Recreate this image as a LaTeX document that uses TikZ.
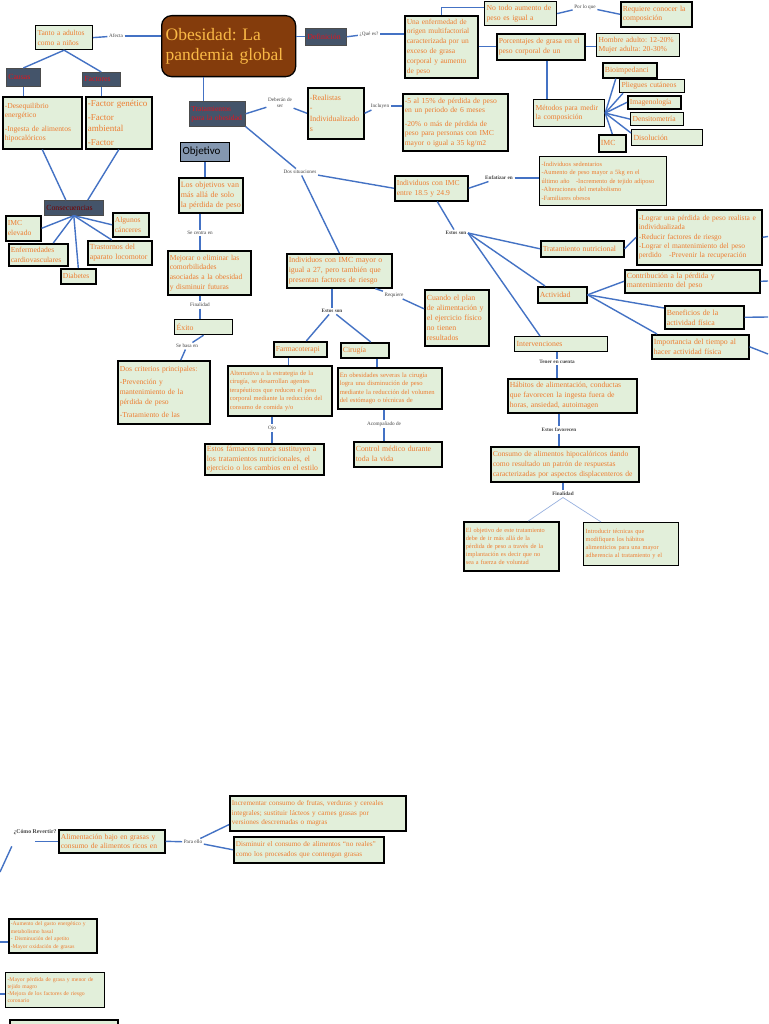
\documentclass[tikz,border=0pt]{standalone}
\usepackage{fontspec}
\setmainfont{Liberation Serif}
\newfontfamily\objfont{Carlito}
\usepackage{xcolor}
\definecolor{boxfill}{RGB}{226,239,218}
\definecolor{boxtext}{RGB}{237,125,49}
\definecolor{wireblue}{RGB}{68,114,196}
\definecolor{hdrfill}{RGB}{68,84,106}
\definecolor{hdrtext}{RGB}{225,20,30}
\definecolor{objfill}{RGB}{132,151,176}
\definecolor{titlefill}{RGB}{132,60,12}
\definecolor{titletext}{RGB}{250,185,70}
\definecolor{lbltext}{RGB}{70,70,70}
\newcommand{\fsz}[2]{\fontsize{#1}{#2}\selectfont}
\frenchspacing

\begin{document}
\begin{tikzpicture}[
    x=1pt, y=-1pt,
    box/.style 2 args={draw=black, line width=1.6pt, fill=boxfill, text=boxtext, anchor=north west, align=left, inner sep=2pt, minimum width=#1, minimum height=#2, text width=#1-4},
    hdr/.style 2 args={draw=black!70, line width=0.6pt, fill=hdrfill, text=hdrtext, anchor=north west, align=left, inner sep=2pt, minimum width=#1, minimum height=#2, text width=#1-4, font=\fsz{7.8}{9}},
    lbl/.style={font=\fsz{5.2}{6}, text=lbltext, inner sep=1.5pt, align=center},
    lblb/.style={lbl, font=\fsz{5.2}{6}\bfseries},
    wire/.style={draw=wireblue, line width=1.4pt},
    thinwire/.style={draw=wireblue!55, line width=0.7pt}
]
    \path[use as bounding box, fill=white] (0,0) rectangle (768,1024);

    \node[draw=black, line width=1.3pt, fill=titlefill, text=titletext, rounded corners=10pt, anchor=north west, minimum width=134, minimum height=61, text width=126, align=left, inner sep=4pt, font=\fsz{17.5}{20}] (title) at (161,15) {Obesidad: La\\pandemia global};

    \node[box={57}{24}, font=\fsz{7.5}{10}, line width=1.2pt] (tanto) at (35,25) {Tanto a adultos\\como a niños};
    \node[hdr={34}{18}] (causas) at (6,68) {Causas};
    \node[hdr={38}{14}] (factores) at (82,72) {Factores};
    \node[box={79}{52}, font=\fsz{7.6}{9.5}] (causlist) at (2,96) {-Desequilibrio\\energético\\[4pt]-Ingesta de alimentos\\hipocalóricos};
    \node[box={66}{52}, font=\fsz{9}{11}] (factlist) at (85,96) {-Factor genético\\[3pt]-Factor\\ambiental\\[3pt]-Factor};
    \node[hdr={59}{15}, text=red!45!black] (consec) at (44,200) {Consecuencias};
    \node[box={35}{25}, font=\fsz{7.6}{10}] (imc1) at (5,215) {IMC\\elevado};
    \node[box={36}{24}, font=\fsz{7.6}{10}] (cancer) at (112,212) {Algunos\\cánceres};
    \node[box={59}{22}, font=\fsz{7.6}{10}] (cardio) at (8,243) {Enfermedades\\cardiovasculares};
    \node[box={64}{24}, font=\fsz{7.8}{10}] (trast) at (87,240) {Trastornos del\\aparato locomotor};
    \node[box={35}{15}, font=\fsz{7.6}{9}] (diab) at (60,268) {Diabetes};

    \node[hdr={56}{25}, font=\fsz{7.6}{9}] (trat) at (189,101) {Tratamientos\\para la obesidad};
    \node[draw=black, line width=1.2pt, fill=objfill, anchor=north west, minimum width=49, minimum height=19, text width=45, align=left, inner sep=2pt, font=\objfont\fsz{11}{12}] (objetivo) at (180,142) {Objetivo};
    \node[box={64}{35}, font=\fsz{8}{10}] (obj1) at (178,177) {Los objetivos van\\más allá de solo\\la pérdida de peso};
    \node[box={83}{44}, font=\fsz{7.6}{9.6}] (mejorar) at (167,250) {Mejorar o eliminar las\\comorbilidades\\asociadas a la obesidad\\y disminuir futuras};
    \node[box={58}{15}, font=\fsz{7.8}{9}, line width=1.2pt] (exito) at (174,319) {Éxito};
    \node[box={92}{63}, font=\fsz{7.6}{10}] (dos) at (117,360) {Dos criterios principales:\\[3pt]-Prevención y\\mantenimiento de la\\pérdida de peso\\[3pt]-Tratamiento de las};

    \node[box={56}{51}, font=\fsz{7.9}{10.5}] (realistas) at (307,87) {-Realistas\\-\\Individualizado\\s};
    \node[box={105}{57}, font=\fsz{7.6}{9.5}] (pct) at (402,93) {-5 al 15\% de pérdida de peso\\en un periodo de 6 meses\\[4pt]-20\% o más de pérdida de\\peso para personas con IMC\\mayor o igual a 35 kg/m2};
    \node[box={73}{25}, font=\fsz{7.6}{10}] (ind1) at (394,175) {Individuos con IMC\\entre 18.5 y 24.9};
    \node[box={105}{34}, font=\fsz{7.8}{10}] (ind2) at (286,253) {Individuos con IMC mayor o\\igual a 27, pero también que\\presentan factores de riesgo};
    \node[box={127}{49}, font=\fsz{6.4}{8.5}, line width=1.2pt] (riesgo) at (539,156) {-Individuos sedentarios\\-Aumento de peso mayor a 5kg en el\\último año\quad -Incremento de tejido adiposo\\-Alteraciones del metabolismo\\-Familiares obesos};
    \node[box={83}{16}, font=\fsz{7.7}{9}] (nutri) at (540,240) {Tratamiento nutricional};
    \node[box={49}{16}, font=\fsz{7.8}{9}] (actfis) at (537,286) {Actividad};
    \node[box={93}{15}, font=\fsz{7.8}{9}, line width=1.2pt] (interv) at (514,336) {Intervenciones};
    \node[box={125}{55}, font=\fsz{7.5}{9.3}] (lograr) at (636,209) {-Lograr una pérdida de peso realista e\\individualizada\\-Reducir factores de riesgo\\-Lograr el mantenimiento del peso\\perdido\quad -Prevenir la recuperación};
    \node[box={135}{23}, font=\fsz{7.8}{9.5}] (contrib) at (624,269) {Contribución a la pérdida y\\mantenimiento del peso};
    \node[box={79}{23}, font=\fsz{7.8}{10}] (benef) at (664,305) {Beneficios de la\\actividad física};
    \node[box={97}{24}, font=\fsz{7.8}{10}] (import) at (651,334) {Importancia del tiempo al\\hacer actividad física};
    \node[box={129}{34}, font=\fsz{7.7}{10}] (habitos) at (507,378) {Hábitos de alimentación, conductas\\que favorecen la ingesta fuera de\\horas, ansiedad, autoimagen};
    \node[box={148}{35}, font=\fsz{7.6}{10}] (consumo) at (490,446) {Consumo de alimentos hipocalóricos dando\\como resultado un patrón de respuestas\\caracterizadas por aspectos displacenteros de};
    \node[box={95}{49}, font=\fsz{6.3}{8.2}] (fin1) at (463,521) {El objetivo de este tratamiento\\debe de ir más allá de la\\pérdida de peso a través de la\\implantación es decir que no\\sea a fuerza de voluntad};
    \node[box={95}{43}, font=\fsz{6.3}{8.2}, line width=1.2pt] (fin2) at (583,522) {Introducir técnicas que\\modifiquen los hábitos\\alimenticios para una mayor\\adherencia al tratamiento y el};

    \node[box={64}{56}, font=\fsz{7.8}{10}] (cuando) at (424,289) {Cuando el plan\\de alimentación y\\el ejercicio físico\\no tienen\\resultados};
    \node[box={53}{15}, font=\fsz{7.6}{9}] (farma) at (273,341) {Farmacoterapi};
    \node[box={48}{15}, font=\fsz{7.8}{9}] (ciru) at (340,342) {Cirugía};
    \node[box={104}{50}, font=\fsz{6.5}{8.5}] (farmatxt) at (227,365) {Alternativa a la estrategia de la\\cirugía, se desarrollan agentes\\terapéuticos que reducen el peso\\corporal mediante la reducción del\\consumo de comida y/o};
    \node[box={119}{31}, font=\fsz{7.8}{9.5}] (farmanote) at (204,443) {Estos fármacos nunca sustituyen a\\los tratamientos nutricionales, el\\ejercicio o los cambios en el estilo};
    \node[box={104}{41}, font=\fsz{6.6}{8.5}] (cirutxt) at (337,367) {En obesidades severas la cirugía\\logra una disminución de peso\\mediante la reducción del volumen\\del estómago o técnicas de};
    \node[box={88}{25}, font=\fsz{7.8}{10}] (control) at (353,441) {Control médico durante\\toda la vida};

    \node[hdr={41}{17}] (defin) at (305,28) {Definición};
    \node[box={73}{62}, font=\fsz{7.5}{9.8}] (una) at (404,15) {Una enfermedad de\\origen multifactorial\\caracterizada por un\\exceso de grasa\\corporal y aumento\\de peso};
    \node[box={72}{24}, font=\fsz{7.7}{9.5}, line width=1.2pt] (notodo) at (484,1) {No todo aumento de\\peso es igual a};
    \node[box={71}{25}, font=\fsz{7.7}{9.5}] (requiere) at (620,1) {Requiere conocer la\\composición};
    \node[box={88}{26}, font=\fsz{7.6}{9.5}] (porc) at (496,33) {Porcentajes de grasa en el\\peso corporal de un};
    \node[box={83}{23}, font=\fsz{7.6}{9.5}, line width=1.2pt] (hombre) at (596,33) {Hombre adulto: 12-20\%\\Mujer adulta: 20-30\%};
    \node[box={71}{27}, font=\fsz{7.6}{9.5}, line width=1.2pt] (metodos) at (533,99) {Métodos para medir\\la composición};
    \node[box={54}{15}, font=\fsz{7.8}{9}] (bio) at (602,62) {Bioimpedanci};
    \node[box={65}{13}, font=\fsz{7.6}{9}, line width=1.2pt] (plieg) at (619,79) {Pliegues cutáneos};
    \node[box={53}{13}, font=\fsz{7.6}{9}] (imag) at (627,95) {Imagenología};
    \node[box={53}{13}, font=\fsz{7.6}{9}, line width=1.2pt] (dens) at (630,112) {Densitometría};
    \node[box={71}{16}, font=\fsz{7.8}{9}, line width=1.2pt] (disol) at (631,129) {Disolución};
    \node[box={27}{17}, font=\fsz{7.8}{9}] (imc2) at (598,134) {IMC};

    \node[box={106}{23}, font=\fsz{7.6}{9.5}] (alim) at (58,829) {Alimentación bajo en grasas y\\consumo de alimentos ricos en};
    \node[box={176}{35}, font=\fsz{7.2}{9.7}] (incr) at (229,795) {Incrementar consumo de frutas, verduras y cereales\\integrales; sustituir lácteos y carnes grasas por\\versiones descremadas o magras};
    \node[box={150}{26}, font=\fsz{7.2}{9.7}] (dism) at (233,836) {Disminuir el consumo de alimentos ``no reales''\\como los procesados que contengan grasas};
    \node[box={88}{34}, font=\fsz{5.6}{7.5}] (left1) at (8,918) {-Aumento del gasto energético y\\metabolismo basal\\- Disminución del apetito\\-Mayor oxidación de grasas};
    \node[box={99}{35}, font=\fsz{5.7}{7.2}, line width=1.2pt] (left2) at (5,972) {-Mayor pérdida de grasa y menor de\\tejido magro\\-Mejora de los factores de riesgo\\coronario};
    \node[box={108}{14}] (left3) at (9,1019) {};

    \node[lbl] (lafecta) at (116,36) {Afecta};
    \node[lbl] (lque) at (369,34) {¿Qué es?};
    \node[lbl] (lporlo) at (585,7) {Por lo que};
    \node[lbl] (ldeber) at (280,103) {Deberán de\\ser};
    \node[lbl] (lincl) at (380,106) {Incluyen};
    \node[lbl] (ldossit) at (300,172) {Dos situaciones};
    \node[lblb] (lenfat) at (499,178) {Enfatizar en};
    \node[lblb] (lestos1) at (456,233) {Estos son};
    \node[lbl] (lsecentra) at (200,233) {Se centra en};
    \node[lbl] (lfinal1) at (200,305) {Finalidad};
    \node[lbl] (lsebasa) at (187,346) {Se basa en};
    \node[lblb] (lestos2) at (332,311) {Estos son};
    \node[lbl] (lreq) at (394,295) {Requiere};
    \node[lbl] (ojo) at (272,428) {Ojo};
    \node[lbl] (lacomp) at (384,424) {Acompañado de};
    \node[lblb] (ltener) at (557,362) {Tener en cuenta};
    \node[lblb] (lfavor) at (559,430) {Estos favorecen};
    \node[lblb] (lfinal2) at (563,494) {Finalidad};
    \node[lblb, font=\fsz{5.8}{7}\bfseries] (lcomo) at (35,832) {¿Cómo Revertir?};
    \node[lbl] (lpara) at (193,842) {Para ello};

    \coordinate (rimA) at (768,236.5);
    \coordinate (rimB) at (768,281);
    \coordinate (rimC) at (768,317);
    \coordinate (rimD) at (768,354);
    \coordinate (rimE) at (0,872);
    \coordinate (rimF) at (0,942);
    \coordinate (rimG) at (0,994);

    \draw[wire] (tanto.east) -- (lafecta);
    \draw[wire] (lafecta) -- (lafecta -| title.west);
    \draw[wire] (tanto.south) -- (causas.north);
    \draw[wire] (tanto.south) -- (factores.north);
    \draw[wire] (causas.south) -- (causas.south |- causlist.north);
    \draw[wire] (factores.south) -- (factores.south |- factlist.north);
    \draw[wire] (causlist.south) -- ([xshift=-8pt]consec.north);
    \draw[wire] (factlist.south) -- ([xshift=14pt]consec.north);
    \draw[wire] (consec.south) -- (imc1.east);
    \draw[wire] (consec.south) -- (cancer.west);
    \draw[wire] (consec.south) -- ([xshift=15pt]cardio.north);
    \draw[wire] (consec.south) -- ([xshift=-8pt]trast.north);
    \draw[wire] (consec.south) -- (diab.north);

    \draw[wire] ([xshift=-14pt]trat.north) -- ([xshift=-14pt]trat.north |- title.south);
    \draw[wire] (trat.east) -- (ldeber);
    \draw[wire] (ldeber) -- (realistas.west);
    \draw[wire] (realistas.east) -- (lincl);
    \draw[wire] (lincl) -- (lincl -| pct.west);
    \draw[wire] (trat.south east) -- (ldossit);
    \draw[wire] (ldossit) -- (ind1.west);
    \draw[wire] (ldossit) -- (ind2.north);

    \draw[wire] (objetivo.south) -- (objetivo.south |- obj1.north);
    \draw[wire] (obj1.south -| lsecentra) -- (lsecentra);
    \draw[wire] (lsecentra) -- (lsecentra |- mejorar.north);
    \draw[wire] (mejorar.south -| lfinal1) -- (lfinal1);
    \draw[wire] (lfinal1) -- (lfinal1 |- exito.north);
    \draw[wire] (exito.south) -- (lsebasa);
    \draw[wire] (lsebasa) -- ([xshift=17pt]dos.north);

    \draw[wire] (defin.west -| title.east) -- (defin.west);
    \draw[wire] (defin.east) -- (lque);
    \draw[wire] (lque) -- (lque -| una.west);
    \draw[wire] (una.north) |- ([yshift=6pt]notodo.west);
    \draw[wire] (notodo.east) -- (lporlo);
    \draw[wire] (lporlo) -- (requiere.west);
    \draw[wire] (una.east) -- (una.east -| porc.west);
    \draw[wire] (porc.east) -- (porc.east -| hombre.west);
    \draw[wire] ([xshift=6pt]porc.south) -- ([xshift=6pt]porc.south |- metodos.north);
    \draw[wire] (metodos.east) -- ([xshift=-14pt]bio.south);
    \draw[wire] (metodos.east) -- ([xshift=4pt]plieg.south west);
    \draw[wire] (metodos.east) -- (imag.west);
    \draw[wire] (metodos.east) -- (dens.west);
    \draw[wire] (metodos.east) -- ([yshift=-4pt]disol.north west);
    \draw[wire] (metodos.east) -- (imc2.north);

    \draw[wire] (ind1.east) -- (lenfat);
    \draw[wire] (lenfat) -- (lenfat -| riesgo.west);
    \draw[wire] ([xshift=6pt]ind1.south) -- (lestos1);
    \draw[wire] (lestos1.east) -- (nutri.west);
    \draw[wire] (lestos1.east) -- ([xshift=8pt]actfis.north west);
    \draw[wire] (lestos1.east) -- ([xshift=26pt]interv.north west);
    \draw[wire] (nutri.east) -- (lograr.west);
    \draw[wire] (lograr.east) -- (rimA);
    \draw[wire] (actfis.east) -- (contrib.west);
    \draw[wire] (actfis.east) -- ([yshift=-3pt]benef.north west);
    \draw[wire] (actfis.east) -- ([xshift=6pt]import.north west);
    \draw[wire] (contrib.east) -- (rimB);
    \draw[wire] (benef.east) -- (rimC);
    \draw[wire] (import.east) -- (rimD);
    \draw[wire] (interv.south -| ltener) -- (ltener);
    \draw[wire] (ltener) -- (ltener |- habitos.north);
    \draw[wire] (habitos.south -| lfavor) -- (lfavor);
    \draw[wire] (lfavor) -- (lfavor |- consumo.north);
    \draw[wire] (consumo.south -| lfinal2) -- (lfinal2);
    \draw[thinwire] (lfinal2.south) -- ([xshift=17pt]fin1.north);
    \draw[thinwire] (lfinal2.south) -- ([xshift=-30pt]fin2.north);

    \draw[wire] (lestos2 |- ind2.south) -- (lestos2);
    \draw[wire] (lestos2) -- ([xshift=6pt]farma.north);
    \draw[wire] (lestos2) -- ([xshift=6pt]ciru.north);
    \draw[wire] ([xshift=36pt]ind2.south) -- (lreq);
    \draw[wire] (lreq) -- ([yshift=9pt]cuando.west);
    \draw[wire] ([xshift=-12pt]farma.south) -- ([xshift=-12pt]farma.south |- farmatxt.north);
    \draw[wire] (farmatxt.south -| ojo) -- (ojo);
    \draw[wire] (ojo) -- (ojo |- farmanote.north);
    \draw[wire] ([xshift=12pt]ciru.south) -- ([xshift=12pt]ciru.south |- cirutxt.north);
    \draw[wire] (cirutxt.south -| lacomp) -- (lacomp);
    \draw[wire] (lacomp) -- (lacomp |- control.north);

    \draw[wire] (rimE) -- ([yshift=-10pt]lcomo.south west);
    \draw[wire] (alim.west) -- (alim.west -| lcomo);
    \draw[wire] (alim.east) -- (lpara);
    \draw[wire] (lpara) -- ([yshift=7pt]incr.south west);
    \draw[wire] (lpara) -- (dism.west);
    \draw[wire] (rimF) -- (rimF -| left1.west);
    \draw[wire] (rimG) -- (rimG -| left2.west);
\end{tikzpicture}
\end{document}
